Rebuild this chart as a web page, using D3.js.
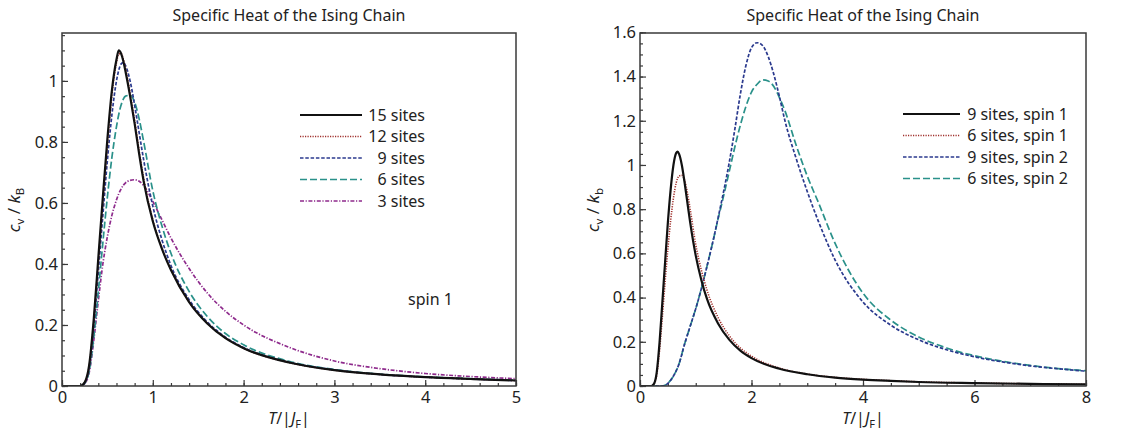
<!DOCTYPE html>
<meta charset="utf-8">
<style>
body { margin: 0; background: #fff; }
svg text { font-family: "Noto Sans", sans-serif; fill: #222; }
.frame { fill: none; stroke: #3a3a3a; stroke-width: 1.5px; }
.axis path { display: none; }
.axis line { stroke: #3a3a3a; stroke-width: 1.2px; }
.axis text { font-size: 16.5px; font-family: "Noto Sans", sans-serif; fill: #222; }
.curve { fill: none; }
</style>
<body>
<svg width="1142" height="439"></svg>
<script src="https://d3js.org/d3.v7.min.js"></script>
<script>
// temperatures T/|J_F| sampled for the spin 1 chains
var tSpin1 = [0, 0.2, 0.25, 0.3, 0.35, 0.4, 0.45, 0.5, 0.55, 0.6, 0.625, 0.65, 0.675, 0.7, 0.75, 0.8, 0.85, 0.9,
              1.0, 1.1, 1.2, 1.4, 1.6, 1.8, 2.0, 2.5, 3.0, 3.5, 4.0, 4.5, 5.0, 6.0, 7.0, 8.0];

// c_v / k_B, spin 1
var cv15 = [0, 0, 0.012, 0.07, 0.22, 0.42, 0.62, 0.81, 0.97, 1.07, 1.10, 1.09, 1.065, 1.03, 0.95, 0.86, 0.76, 0.67,
            0.54, 0.45, 0.38, 0.275, 0.205, 0.157, 0.124, 0.077, 0.052, 0.038, 0.029, 0.023, 0.018, 0.013, 0.0095, 0.0072];
var cv12 = [0, 0, 0.011, 0.066, 0.21, 0.405, 0.60, 0.79, 0.955, 1.06, 1.088, 1.09, 1.072, 1.04, 0.96, 0.87, 0.77, 0.68,
            0.545, 0.452, 0.382, 0.276, 0.206, 0.158, 0.124, 0.077, 0.052, 0.038, 0.029, 0.023, 0.018, 0.013, 0.0095, 0.0072];
var cv9 = [0, 0, 0.01, 0.062, 0.195, 0.375, 0.56, 0.74, 0.89, 1.0, 1.035, 1.055, 1.06, 1.05, 1.0, 0.92, 0.83, 0.74,
           0.59, 0.48, 0.395, 0.283, 0.21, 0.16, 0.126, 0.078, 0.053, 0.038, 0.029, 0.023, 0.018, 0.013, 0.0095, 0.0072];
var cv6 = [0, 0, 0.009, 0.05, 0.16, 0.31, 0.47, 0.62, 0.75, 0.85, 0.89, 0.92, 0.94, 0.95, 0.953, 0.93, 0.875, 0.80,
           0.64, 0.525, 0.435, 0.31, 0.228, 0.172, 0.135, 0.081, 0.054, 0.039, 0.030, 0.024, 0.019, 0.0135, 0.01, 0.0075];
var cv3 = [0, 0, 0.008, 0.045, 0.15, 0.28, 0.40, 0.49, 0.56, 0.61, 0.63, 0.645, 0.658, 0.666, 0.674, 0.676, 0.671, 0.657,
           0.605, 0.545, 0.485, 0.385, 0.305, 0.245, 0.2, 0.127, 0.082, 0.057, 0.041, 0.031, 0.024, 0.015, 0.011, 0.0085];

// spin 2 chains
var tSpin2 = [0, 0.4, 0.5, 0.6, 0.7, 0.8, 0.9, 1.0, 1.1, 1.2, 1.3, 1.4, 1.5, 1.6, 1.7, 1.8, 1.9, 2.0, 2.1, 2.2, 2.3,
              2.4, 2.5, 2.6, 2.8, 3.0, 3.2, 3.5, 4.0, 4.5, 5.0, 5.5, 6.0, 6.5, 7.0, 7.5, 8.0];
var cv9s2 = [0, 0, 0.012, 0.045, 0.1, 0.19, 0.27, 0.35, 0.44, 0.54, 0.645, 0.76, 0.88, 1.01, 1.16, 1.32, 1.45, 1.53, 1.553, 1.54, 1.49,
             1.41, 1.31, 1.2, 1.03, 0.88, 0.745, 0.57, 0.38, 0.275, 0.209, 0.164, 0.132, 0.109, 0.091, 0.078, 0.067];
var cv6s2 = [0, 0, 0.012, 0.045, 0.1, 0.19, 0.27, 0.35, 0.44, 0.54, 0.645, 0.755, 0.86, 0.97, 1.08, 1.18, 1.265, 1.33, 1.365, 1.385, 1.38,
             1.355, 1.305, 1.245, 1.09, 0.95, 0.83, 0.645, 0.42, 0.298, 0.222, 0.172, 0.137, 0.112, 0.093, 0.079, 0.069];

var leftLabels = ["15 sites", "12 sites", "9 sites", "6 sites", "3 sites"];
var rightLabels = ["9 sites, spin 1", "6 sites, spin 1", "9 sites, spin 2", "6 sites, spin 2"];

var styles = {
  solid:  {stroke: "#111", width: 2.2, dash: null},
  dotted: {stroke: "#a0302c", width: 1.6, dash: "1.2,1.3"},
  dashed: {stroke: "#2b3a8e", width: 1.7, dash: "3.5,1.8"},
  long:   {stroke: "#2a918a", width: 1.7, dash: "7,3"},
  dashdot:{stroke: "#8e2a8c", width: 1.7, dash: "4,1.6,1.2,1.6"}
};

var svg = d3.select("svg");

function pairs(t, v) { return t.map(function(d, i) { return [d, v[i]]; }); }

function panel(opt) {
  var x = d3.scaleLinear().domain(opt.xDomain).range([opt.left, opt.right]);
  var y = d3.scaleLinear().domain(opt.yDomain).range([386, 33]);
  var g = svg.append("g");

  g.append("clipPath").attr("id", opt.id)
    .append("rect").attr("x", opt.left).attr("y", 33)
    .attr("width", opt.right - opt.left).attr("height", 353);

  // minor ticks first, then major ones with labels
  g.append("g").attr("class", "axis").attr("transform", "translate(0,386)")
    .call(d3.axisBottom(x).tickValues(opt.xMinor).tickSize(-3).tickFormat(""));
  g.append("g").attr("class", "axis").attr("transform", "translate(0,386)")
    .call(d3.axisBottom(x).tickValues(opt.xMajor).tickSize(-6).tickPadding(5)
      .tickFormat(function(d) { return String(+d.toFixed(2)); }));
  g.append("g").attr("class", "axis").attr("transform", "translate(" + opt.left + ",0)")
    .call(d3.axisLeft(y).tickValues(opt.yMinor).tickSize(-3).tickFormat(""));
  g.append("g").attr("class", "axis").attr("transform", "translate(" + opt.left + ",0)")
    .call(d3.axisLeft(y).tickValues(opt.yMajor).tickSize(-6).tickPadding(4)
      .tickFormat(function(d) { return String(+d.toFixed(2)); }));

  var line = d3.line()
      .x(function(d) { return x(d[0]); })
      .y(function(d) { return y(d[1]); })
      .curve(d3.curveMonotoneX);

  var plot = g.append("g").attr("clip-path", "url(#" + opt.id + ")");
  opt.series.slice().reverse().forEach(function(s) {
    var st = styles[s.style];
    plot.append("path").datum(pairs(s.t, s.v))
      .attr("class", "curve")
      .attr("d", line)
      .attr("stroke", st.stroke)
      .attr("stroke-width", st.width)
      .attr("stroke-dasharray", st.dash);
  });

  g.append("rect").attr("class", "frame")
    .attr("x", opt.left).attr("y", 33)
    .attr("width", opt.right - opt.left).attr("height", 353);

  // legend
  opt.series.forEach(function(s, i) {
    var st = styles[s.style], ly = opt.legY + i * 21.5;
    g.append("line")
      .attr("x1", opt.legX).attr("x2", opt.legX + opt.legLen)
      .attr("y1", ly).attr("y2", ly)
      .attr("stroke", st.stroke).attr("stroke-width", st.width)
      .attr("stroke-dasharray", st.dash);
    g.append("text").attr("x", opt.legTextEnd).attr("y", ly).attr("dy", "0.35em")
      .attr("text-anchor", "end").style("font-size", "16px").text(s.label);
  });

  var cx = (opt.left + opt.right) / 2;
  g.append("text").attr("x", cx).attr("y", 21).attr("text-anchor", "middle")
    .style("font-size", "16px").text("Specific Heat of the Ising Chain");

  // T/|J_F|
  var xl = g.append("text").attr("x", cx).attr("y", 424).attr("text-anchor", "middle").style("font-size", "16px");
  xl.append("tspan").style("font-style", "italic").text("T");
  xl.append("tspan").text("/|");
  xl.append("tspan").style("font-style", "italic").text("J");
  xl.append("tspan").attr("dy", 4).style("font-size", "11px").text("F");
  xl.append("tspan").attr("dy", -4).text("|");

  // c_v / k_B
  var yl = g.append("text").attr("transform", "translate(" + opt.yLabelX + ",210) rotate(-90)")
    .attr("text-anchor", "middle").style("font-size", "17px");
  yl.append("tspan").style("font-style", "italic").text("c");
  yl.append("tspan").attr("dy", 4).style("font-size", "11.5px").text("v");
  yl.append("tspan").attr("dy", -4).text(" / ");
  yl.append("tspan").style("font-style", "italic").text("k");
  yl.append("tspan").attr("dy", 4).style("font-size", "11.5px").text(opt.kSub);

  return g;
}

var left = panel({
  id: "clipL", left: 62, right: 516, xDomain: [0, 5], yDomain: [0, 1.157],
  xMajor: d3.range(0, 5.01, 1), xMinor: d3.range(0, 5.01, 0.2),
  yMajor: d3.range(0, 1.01, 0.2), yMinor: d3.range(0, 1.151, 0.05),
  legX: 300, legLen: 62, legTextEnd: 425, legY: 115, yLabelX: 20, kSub: "B",
  series: [
    {label: leftLabels[0], t: tSpin1, v: cv15, style: "solid"},
    {label: leftLabels[1], t: tSpin1, v: cv12, style: "dotted"},
    {label: leftLabels[2], t: tSpin1, v: cv9, style: "dashed"},
    {label: leftLabels[3], t: tSpin1, v: cv6, style: "long"},
    {label: leftLabels[4], t: tSpin1, v: cv3, style: "dashdot"}
  ]
});

left.append("text").attr("x", 408).attr("y", 299).attr("dy", "0.35em")
  .style("font-size", "16px").text("spin 1");

panel({
  id: "clipR", left: 640, right: 1086, xDomain: [0, 8], yDomain: [0, 1.597],
  xMajor: d3.range(0, 8.01, 2), xMinor: d3.range(0, 8.01, 0.5),
  yMajor: d3.range(0, 1.61, 0.2), yMinor: d3.range(0, 1.61, 0.05),
  legX: 903, legLen: 57, legTextEnd: 1068, legY: 114, yLabelX: 599, kSub: "b",
  series: [
    {label: rightLabels[0], t: tSpin1, v: cv9, style: "solid"},
    {label: rightLabels[1], t: tSpin1, v: cv6, style: "dotted"},
    {label: rightLabels[2], t: tSpin2, v: cv9s2, style: "dashed"},
    {label: rightLabels[3], t: tSpin2, v: cv6s2, style: "long"}
  ]
});
</script>
